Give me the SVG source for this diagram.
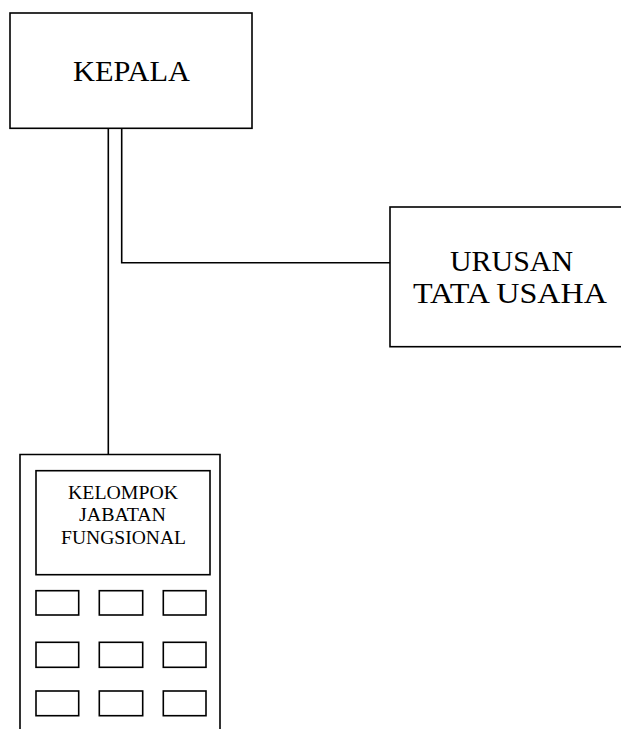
<svg xmlns="http://www.w3.org/2000/svg" width="621" height="729" viewBox="0 0 621 729">
<style>
.box{fill:#fff;stroke:#000;stroke-width:1.6}
.ln{fill:none;stroke:#000;stroke-width:1.6}
.t{font-family:"Liberation Serif","Times New Roman",serif;fill:#000;text-anchor:middle}
</style>
<rect width="621" height="729" fill="#fff"/>
<g id="connectors">
<line class="ln" x1="108.3" y1="128.3" x2="108.3" y2="454.5"/>
<polyline class="ln" points="121.7,128.3 121.7,262.7 390,262.7"/>
</g>
<g id="kepala">
<rect class="box" x="10" y="13" width="242" height="115.3"/>
<text class="t" x="131.5" y="81" font-size="28.5" textLength="117" lengthAdjust="spacingAndGlyphs">KEPALA</text>
</g>
<g id="urusan">
<rect class="box" x="390" y="207" width="240" height="139.7"/>
<text class="t" x="511.5" y="271" font-size="29.5" textLength="123" lengthAdjust="spacingAndGlyphs">URUSAN</text>
<text class="t" x="510" y="303" font-size="29.5" textLength="194" lengthAdjust="spacingAndGlyphs">TATA USAHA</text>
</g>
<g id="kelompok">
<polyline class="box" points="20,740 20,454.5 220,454.5 220,740"/>
<rect class="box" x="36" y="470.7" width="174" height="104"/>
<text class="t" x="123" y="499" font-size="18.5" textLength="110" lengthAdjust="spacingAndGlyphs">KELOMPOK</text>
<text class="t" x="122.5" y="521" font-size="18.5" textLength="87" lengthAdjust="spacingAndGlyphs">JABATAN</text>
<text class="t" x="123.5" y="544" font-size="18.5" textLength="125" lengthAdjust="spacingAndGlyphs">FUNGSIONAL</text>
<rect class="box" x="36" y="590.7" width="42.7" height="24.3"/>
<rect class="box" x="99.3" y="590.7" width="43.4" height="24.3"/>
<rect class="box" x="163.3" y="590.7" width="42.7" height="24.3"/>
<rect class="box" x="36" y="642.3" width="42.7" height="25"/>
<rect class="box" x="99.3" y="642.3" width="43.4" height="25"/>
<rect class="box" x="163.3" y="642.3" width="42.7" height="25"/>
<rect class="box" x="36" y="691" width="42.7" height="24.7"/>
<rect class="box" x="99.3" y="691" width="43.4" height="24.7"/>
<rect class="box" x="163.3" y="691" width="42.7" height="24.7"/>
</g>
</svg>
